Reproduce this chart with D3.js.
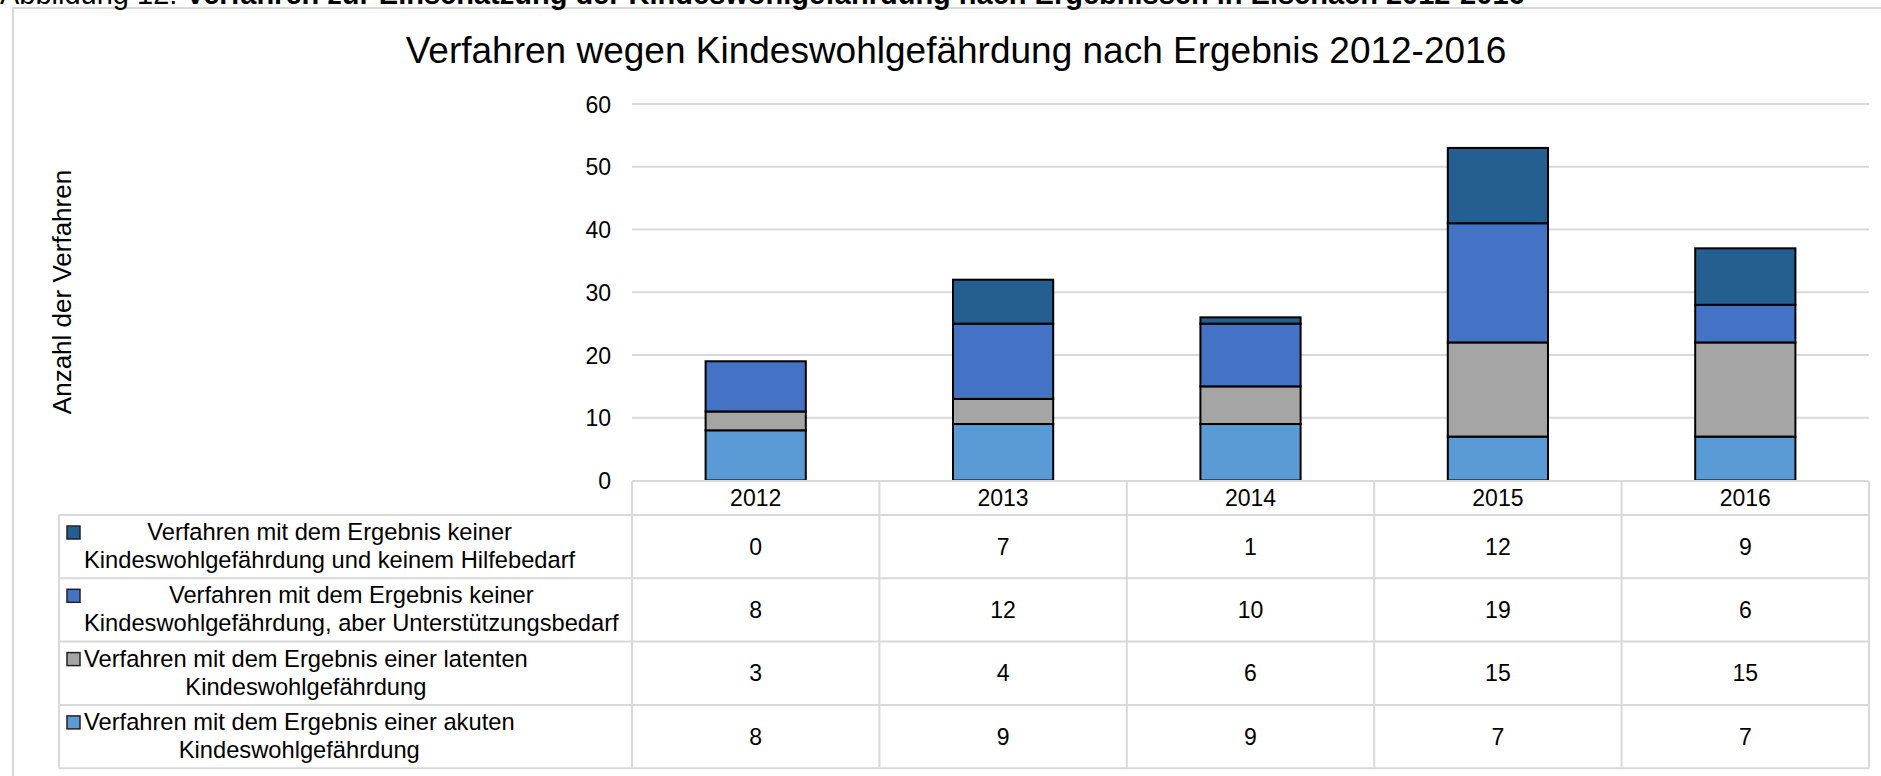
<!DOCTYPE html>
<html>
<head>
<meta charset="utf-8">
<script src="https://d3js.org/d3.v7.min.js"></script>
<style>
    html, body { margin: 0; padding: 0; background: #fff; }
    svg { display: block; font-family: "Liberation Sans", Arial, sans-serif; }
</style>
</head>
<body>
<svg id="chart"></svg>
<script>
// chart data
var years = ["2012", "2013", "2014", "2015", "2016"];
var keinHilfebedarf = [0, 7, 1, 12, 9];
var unterstuetzung = [8, 12, 10, 19, 6];
var latent = [3, 4, 6, 15, 15];
var akut = [8, 9, 9, 7, 7];
var yTicks = [0, 10, 20, 30, 40, 50, 60];

// legend rows, top to bottom as in the data table
var seriesNames = [
    ["Verfahren mit dem Ergebnis keiner", "Kindeswohlgefährdung und keinem Hilfebedarf"],
    ["Verfahren mit dem Ergebnis keiner", "Kindeswohlgefährdung, aber Unterstützungsbedarf"],
    ["Verfahren mit dem Ergebnis einer latenten", "Kindeswohlgefährdung"],
    ["Verfahren mit dem Ergebnis einer akuten", "Kindeswohlgefährdung"]
];
var seriesValues = [keinHilfebedarf, unterstuetzung, latent, akut];
var seriesColors = ["#255e91", "#4472c4", "#a5a5a5", "#5b9bd5"];

var width = 1881,
    height = 776;

var svg = d3.select("#chart")
    .attr("width", width)
    .attr("height", height);

var grid = "#d9d9d9";

// outer frame of the chart object
svg.append("rect")
    .attr("x", 13)
    .attr("y", 8)
    .attr("width", width)
    .attr("height", height)
    .attr("fill", "none")
    .attr("stroke", grid)
    .attr("stroke-width", 2);

// document caption, cut off at the top like in the scan
var cap = svg.append("text")
    .attr("x", 0)
    .attr("y", 4)
    .style("font-size", "29px")
    .attr("fill", "#000");
cap.append("tspan").text("Abbildung 12: ");
cap.append("tspan").style("font-weight", "bold")
    .text("Verfahren zur Einschätzung der Kindeswohlgefährdung nach Ergebnissen in Eisenach 2012-2016");

svg.append("text")
    .attr("x", 956)
    .attr("y", 63)
    .attr("text-anchor", "middle")
    .style("font-size", "37px")
    .text("Verfahren wegen Kindeswohlgefährdung nach Ergebnis 2012-2016");

svg.append("text")
    .attr("transform", "translate(71,292) rotate(-90)")
    .attr("text-anchor", "middle")
    .style("font-size", "26px")
    .text("Anzahl der Verfahren");

var x = d3.scaleBand()
    .domain(years)
    .range([632, 1869])
    .padding(0);

var y = d3.scaleLinear()
    .domain([0, 60])
    .range([480.5, 104]);

// gridlines
svg.append("g")
    .selectAll("line")
    .data(yTicks.filter(function(d) { return d > 0; }))
    .enter().append("line")
    .attr("x1", x.range()[0])
    .attr("x2", x.range()[1])
    .attr("y1", function(d) { return y(d); })
    .attr("y2", function(d) { return y(d); })
    .attr("stroke", grid)
    .attr("stroke-width", 2);

// y axis labels
var yAxis = d3.axisLeft(y).tickValues(yTicks).tickSize(0).tickPadding(0);
var yg = svg.append("g")
    .attr("transform", "translate(611,0)")
    .call(yAxis);
yg.select(".domain").remove();
yg.selectAll("text")
    .attr("x", 0)
    .attr("dy", "0.35em")
    .style("font-size", "23px")
    .style("font-family", "\"Liberation Sans\", Arial, sans-serif")
    .attr("fill", "#000");

// stacked bars
var stackData = years.map(function(yr, i) {
    return {
        year: yr,
        akut: akut[i],
        latent: latent[i],
        unterstuetzung: unterstuetzung[i],
        kein: keinHilfebedarf[i]
    };
});
var keys = ["akut", "latent", "unterstuetzung", "kein"];
var keyColors = {
    akut: seriesColors[3],
    latent: seriesColors[2],
    unterstuetzung: seriesColors[1],
    kein: seriesColors[0]
};
var stacked = d3.stack().keys(keys)(stackData);

var barW = x.bandwidth() * 0.405;

svg.append("g")
    .selectAll("g")
    .data(stacked)
    .enter().append("g")
    .attr("fill", function(d) { return keyColors[d.key]; })
    .selectAll("rect")
    .data(function(d) { return d; })
    .enter().append("rect")
    .attr("x", function(d) { return x(d.data.year) + (x.bandwidth() - barW) / 2; })
    .attr("width", barW)
    .attr("y", function(d) { return y(d[1]); })
    .attr("height", function(d) { return y(d[0]) - y(d[1]); })
    .attr("stroke", "#000")
    .attr("stroke-width", 2);

// data table
var headTop = 481,
    rowTop = 515,
    rowH = 63.3,
    tableLeft = 59;
var tableBottom = rowTop + rowH * seriesNames.length;

var tg = svg.append("g");

// horizontal borders
tg.append("line")
    .attr("x1", x.range()[0]).attr("x2", x.range()[1])
    .attr("y1", headTop).attr("y2", headTop)
    .attr("stroke", grid).attr("stroke-width", 2);
d3.range(seriesNames.length + 1).forEach(function(i) {
    tg.append("line")
        .attr("x1", tableLeft).attr("x2", x.range()[1])
        .attr("y1", rowTop + i * rowH).attr("y2", rowTop + i * rowH)
        .attr("stroke", grid).attr("stroke-width", 2);
});

// vertical borders
tg.append("line")
    .attr("x1", tableLeft).attr("x2", tableLeft)
    .attr("y1", rowTop).attr("y2", tableBottom)
    .attr("stroke", grid).attr("stroke-width", 2);
years.concat(["end"]).forEach(function(yr, i) {
    var xx = i < years.length ? x(yr) : x.range()[1];
    tg.append("line")
        .attr("x1", xx).attr("x2", xx)
        .attr("y1", headTop).attr("y2", tableBottom)
        .attr("stroke", grid).attr("stroke-width", 2);
});

// year headers
tg.selectAll("text.year")
    .data(years)
    .enter().append("text")
    .attr("class", "year")
    .attr("x", function(d) { return x(d) + x.bandwidth() / 2; })
    .attr("y", 506)
    .attr("text-anchor", "middle")
    .style("font-size", "23px")
    .text(function(d) { return d; });

// value cells
seriesValues.forEach(function(vals, r) {
    tg.selectAll("text.v" + r)
        .data(vals)
        .enter().append("text")
        .attr("class", "v" + r)
        .attr("x", function(d, i) { return x(years[i]) + x.bandwidth() / 2; })
        .attr("y", rowTop + r * rowH + rowH / 2 + 8)
        .attr("text-anchor", "middle")
        .style("font-size", "23px")
        .text(function(d) { return d; });
});

// legend cells: key marker + centred two-line label
seriesNames.forEach(function(lines, r) {
    var top = rowTop + r * rowH;
    tg.append("rect")
        .attr("x", 67)
        .attr("y", top + 11)
        .attr("width", 13)
        .attr("height", 13)
        .attr("fill", seriesColors[r])
        .attr("stroke", "#222")
        .attr("stroke-width", 1.5);

    var texts = lines.map(function(line, k) {
        return tg.append("text")
            .attr("y", top + 25 + k * 28)
            .attr("text-anchor", "middle")
            .style("font-size", "23.7px")
            .text(line);
    });
    var blockW = d3.max(texts, function(t) { return t.node().getComputedTextLength(); });
    texts.forEach(function(t) { t.attr("x", 84 + blockW / 2); });
});
</script>
</body>
</html>
